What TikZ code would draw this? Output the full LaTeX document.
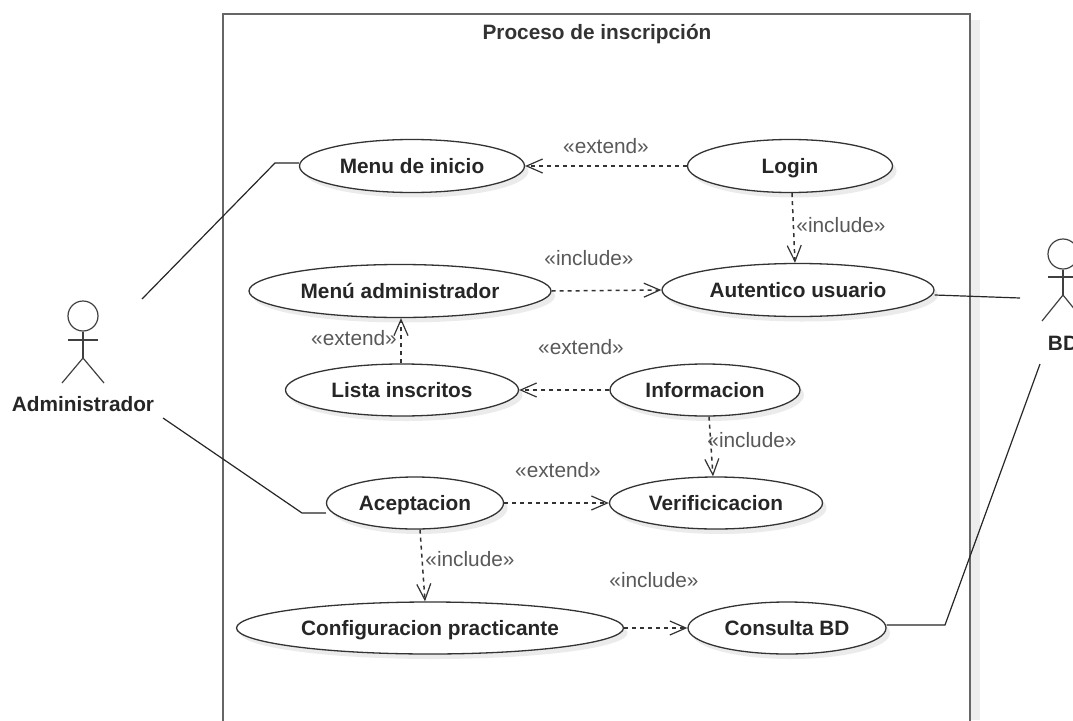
\documentclass[tikz,border=0pt]{standalone}
\usepackage{fontspec}
\setmainfont{Liberation Sans}
\usetikzlibrary{shapes.geometric,arrows.meta,shadows}
\tikzset{
  usecase/.style={ellipse,draw=black!80,line width=1.3pt,fill=white,inner sep=0pt,
    font=\fontsize{20.8}{24}\selectfont\bfseries,text=black!85,text height=17pt,text depth=2pt,
    drop shadow={shadow xshift=4pt,shadow yshift=-5pt,fill=black!25,opacity=.3}},
  dep/.style={draw=black!80,line width=1.5pt,dash pattern=on 4pt off 4pt,
    -{Straight Barb[length=16pt,width=14pt,line width=1.2pt]}},
  tie/.style={draw=black!85,line width=1.2pt},
  stereo/.style={font=\fontsize{20.8}{24}\selectfont,text=black!65,inner sep=0pt},
  actorname/.style={font=\fontsize{20.8}{24}\selectfont\bfseries,text=black!85,inner sep=0pt},
  limb/.style={draw=black!75,line width=1.2pt},
}
\begin{document}
\begin{tikzpicture}[x=1pt,y=-1pt]
\useasboundingbox (0,0) rectangle (1073,720);
\clip (0,0) rectangle (1073,720);
% frame
\fill[black!7] (970,20) rectangle (980,720);
\draw[draw=black!60,line width=1.8pt,fill=white] (223,14) rectangle (970,740);
\node[inner sep=0pt,font=\fontsize{20.8}{24}\selectfont\bfseries,text=black!80] (title) at (597,34) {Proceso de inscripción};
% use cases
\node[usecase,minimum width=225pt,minimum height=53pt] (menu) at (412,166) {Menu de inicio};
\node[usecase,minimum width=205pt,minimum height=53pt] (login) at (790,166) {Login};
\node[usecase,minimum width=272pt,minimum height=53pt] (auth) at (798,290) {Autentico usuario};
\node[usecase,minimum width=302pt,minimum height=53pt] (madm) at (400,291) {Menú administrador};
\node[usecase,minimum width=233pt,minimum height=52pt] (lista) at (402,390) {Lista inscritos};
\node[usecase,minimum width=190pt,minimum height=52pt] (info) at (705,390) {Informacion};
\node[usecase,minimum width=177pt,minimum height=52pt] (acep) at (415,503) {Aceptacion};
\node[usecase,minimum width=213pt,minimum height=52pt] (veri) at (716,503) {Verificicacion};
\node[usecase,minimum width=387pt,minimum height=52pt] (conf) at (430,628) {Configuracion practicante};
\node[usecase,minimum width=198pt,minimum height=52pt] (cons) at (787,628) {Consulta BD};
% dependencies
\draw[dep] (login.west) -- (menu.east);
\draw[dep] ([xshift=2pt]login.south) -- ([xshift=-3pt]auth.north);
\draw[dep] (madm.east) -- (auth.west);
\draw[dep] ([xshift=-1pt]lista.north) -- ([xshift=1pt]madm.south);
\draw[dep] (info.west) -- (lista.east);
\draw[dep] ([xshift=4pt]info.south) -- ([xshift=-3pt]veri.north);
\draw[dep] (acep.east) -- (veri.west);
\draw[dep] ([xshift=5pt]acep.south) -- ([xshift=-5pt]conf.north);
\draw[dep] (conf.east) -- (cons.west);
% stereotypes
\node[stereo] (s1) at (606,146) {«extend»};
\node[stereo] (s2) at (841,225) {«include»};
\node[stereo] (s3) at (589,258) {«include»};
\node[stereo] (s4) at (354,338) {«extend»};
\node[stereo] (s5) at (581,347) {«extend»};
\node[stereo] (s6) at (752,440) {«include»};
\node[stereo] (s7) at (558,470) {«extend»};
\node[stereo] (s8) at (470,559) {«include»};
\node[stereo] (s9) at (654,580) {«include»};
% actors
\node[circle,draw=black!75,line width=1.2pt,inner sep=0pt,minimum size=30pt] (adminhead) at (83,316) {};
\coordinate (adminhip) at (83,358);
\coordinate (adminl) at (68,340);
\coordinate (adminr) at (98,340);
\coordinate (adminfl) at (62,383);
\coordinate (adminfr) at (104,383);
\draw[limb] (adminhead.south) -- (adminhip);
\draw[limb] (adminl) -- (adminr);
\draw[limb] (adminfl) -- (adminhip) -- (adminfr);
\node[actorname] (admin) at (83,404) {Administrador};
\node[circle,draw=black!75,line width=1.2pt,inner sep=0pt,minimum size=30pt] (bdhead) at (1063,254) {};
\coordinate (bdhip) at (1063,295);
\coordinate (bdl) at (1048,277);
\coordinate (bdr) at (1078,277);
\coordinate (bdfl) at (1042,321);
\coordinate (bdfr) at (1084,321);
\draw[limb] (bdhead.south) -- (bdhip);
\draw[limb] (bdl) -- (bdr);
\draw[limb] (bdfl) -- (bdhip) -- (bdfr);
\node[actorname] (bd) at (1063,343) {BD};
% associations
\coordinate (a1) at (142,299);
\coordinate (a2) at (163,418);
\coordinate (b1) at (1020,298);
\coordinate (b2) at (1040,364);
\draw[tie] (a1) -- (275,163) -- ([yshift=3pt]menu.west);
\draw[tie] (a2) -- (302,513) -- ([yshift=-10pt]acep.west);
\draw[tie] ([yshift=-5pt]auth.east) -- (b1);
\draw[tie] (b2) -- (945,625) -- ([yshift=3pt]cons.east);
\end{tikzpicture}
\end{document}
